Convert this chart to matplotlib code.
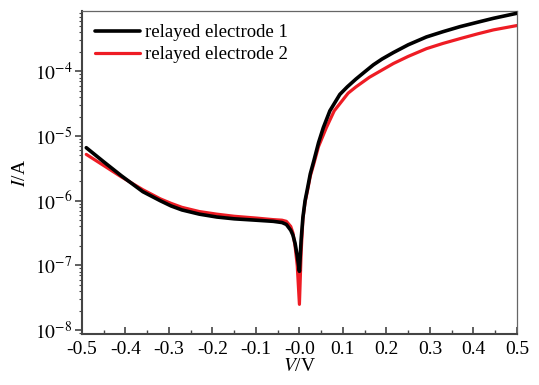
import math
import matplotlib
matplotlib.use("Agg")
import matplotlib.pyplot as plt
from matplotlib.ticker import FixedLocator, FuncFormatter, LogLocator, NullFormatter

plt.rcParams['font.family'] = ['Liberation Serif', 'DejaVu Serif']
plt.rcParams['mathtext.fontset'] = 'stix'

series_names = ["relayed electrode 1", "relayed electrode 2"]

voltage_1 = [-0.49, -0.45, -0.41, -0.36, -0.32, -0.295, -0.27, -0.23, -0.19, -0.15, -0.10, -0.06,
             -0.04, -0.03, -0.02, -0.015, -0.01, -0.005, 0.0, 0.004, 0.008, 0.013, 0.019,
             0.025, 0.033, 0.044, 0.055, 0.07, 0.093, 0.11, 0.13, 0.15, 0.17, 0.19, 0.216, 0.25,
             0.292, 0.33, 0.369, 0.41, 0.446, 0.50]
current_1 = [6.6e-6, 4.0e-6, 2.45e-6, 1.38e-6, 1.0e-6, 8.3e-7, 7.2e-7, 6.2e-7, 5.6e-7, 5.25e-7, 5.0e-7, 4.8e-7,
             4.6e-7, 4.3e-7, 3.5e-7, 2.95e-7, 2.2e-7, 1.4e-7, 8.1e-8, 2.5e-7, 5.5e-7, 1.0e-6, 1.6e-6,
             2.6e-6, 4.1e-6, 7.9e-6, 1.35e-5, 2.45e-5, 4.4e-5, 5.75e-5, 7.6e-5, 9.8e-5, 1.26e-4, 1.55e-4,
             1.95e-4, 2.57e-4, 3.4e-4, 4.1e-4, 4.9e-4, 5.75e-4, 6.6e-4, 7.9e-4]

voltage_2 = [-0.49, -0.45, -0.41, -0.36, -0.32, -0.295, -0.27, -0.23, -0.19, -0.15, -0.10, -0.06,
             -0.04, -0.03, -0.02, -0.015, -0.01, -0.005, 0.0, 0.004, 0.008, 0.013, 0.019,
             0.025, 0.033, 0.044, 0.062, 0.08, 0.112, 0.13, 0.161, 0.216, 0.25,
             0.292, 0.33, 0.369, 0.41, 0.446, 0.50]
current_2 = [5.2e-6, 3.5e-6, 2.35e-6, 1.48e-6, 1.07e-6, 9.1e-7, 7.9e-7, 6.8e-7, 6.2e-7, 5.75e-7, 5.4e-7, 5.1e-7,
             5.0e-7, 4.8e-7, 4.0e-7, 3.2e-7, 2.0e-7, 1.0e-7, 2.5e-8, 1.6e-7, 5.2e-7, 9.5e-7, 1.48e-6,
             2.4e-6, 3.7e-6, 6.9e-6, 1.35e-5, 2.45e-5, 4.6e-5, 5.75e-5, 8.1e-5, 1.32e-4, 1.7e-4,
             2.24e-4, 2.7e-4, 3.2e-4, 3.8e-4, 4.37e-4, 5.1e-4]

x_ticks = [-0.5, -0.4, -0.3, -0.2, -0.1, 0.0, 0.1, 0.2, 0.3, 0.4, 0.5]
x_tick_labels = ["-0.5", "-0.4", "-0.3", "-0.2", "-0.1", "-0.0", "0.1", "0.2", "0.3", "0.4", "0.5"]

fig = plt.figure(figsize=(5.39, 3.85), dpi=100)
ax = fig.add_axes([0.152, 0.1325, 0.807, 0.8385])

ax.plot(voltage_1, current_1, color='black', lw=2.6, label=series_names[0], zorder=3,
        solid_joinstyle='round', solid_capstyle='round')
ax.plot(voltage_2, current_2, color='#ee1c24', lw=2.3, label=series_names[1], zorder=2,
        solid_joinstyle='round', solid_capstyle='round')

ax.set_yscale('log')
ax.set_xlim(-0.5, 0.5)
ax.set_ylim(10**-8.06, 10**-3.07)

ax.xaxis.set_major_locator(FixedLocator(x_ticks))
ax.set_xticklabels(x_tick_labels)
ax.xaxis.set_minor_locator(FixedLocator([t + 0.05 for t in x_ticks[:-1]]))
ax.yaxis.set_major_locator(LogLocator(base=10, numticks=10))
ax.yaxis.set_minor_locator(LogLocator(base=10, subs=range(2, 10), numticks=20))
ax.yaxis.set_minor_formatter(NullFormatter())
ax.yaxis.set_major_formatter(FuncFormatter(lambda v, p: r'$10^{%d}$' % round(math.log10(v))))

ax.tick_params(axis='x', which='major', direction='in', length=5, width=1.2, labelsize=14, pad=5, color='#444444')
ax.tick_params(axis='x', which='minor', direction='in', length=3, width=1.0, color='#444444')
ax.tick_params(axis='y', which='major', direction='out', length=5, width=1.2, labelsize=14, pad=2, color='#444444')
ax.tick_params(axis='y', which='minor', direction='out', length=2.5, width=0.8, color='#444444')

for side in ['left', 'bottom']:
    ax.spines[side].set_linewidth(1.5)
    ax.spines[side].set_color('#444444')
for side in ['top', 'right']:
    ax.spines[side].set_linewidth(0.9)
    ax.spines[side].set_color('#666666')

ax.set_xlabel(r'$V$/V', fontsize=14, labelpad=0)
ax.set_ylabel(r'$I$/A', fontsize=14, labelpad=4)

leg = ax.legend(loc='upper left', frameon=False, fontsize=13.5, handlelength=2.4,
                handletextpad=0.25, borderaxespad=0.3, labelspacing=0.25)

fig.savefig('out.png', dpi=100)
